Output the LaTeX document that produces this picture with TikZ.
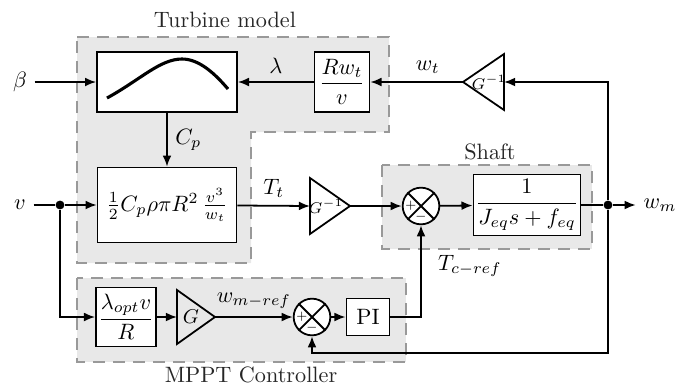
\documentclass[tikz,border=0pt]{standalone}
\usepackage{amsmath}
\usetikzlibrary{shapes.geometric,arrows.meta}
\begin{document}
\begin{tikzpicture}[x=0.45pt,y=-0.45pt,
 blk/.style={draw,thick,fill=white,inner sep=1pt},
 sumnode/.style={draw,thick,circle,fill=white,minimum size=16.5pt,inner sep=0pt},
 tri/.style={draw,thick,line join=miter},
 gtxt/.style={font=\scriptsize,inner sep=0pt},
 sig/.style={thick,-{Latex[length=5pt,width=4pt]}},
 ln/.style={thick},
 grp/.style={draw=black!40,fill=black!9,dash pattern=on 5.4pt off 3.6pt,line width=0.8pt},
 jdot/.style={circle,fill,inner sep=0pt,minimum size=4pt},
 ttl/.style={text=black!85},
 sgn/.style={font=\tiny,inner sep=0pt}
]
\useasboundingbox (0,0) rectangle (683,387);
% groups
\path[grp] (77,37) -- (389,37) -- (389,132) -- (251,132) -- (251,263) -- (77,263) -- cycle;
\path[grp] (382,165) rectangle (592,249);
\path[grp] (77,278) rectangle (406,362);
\node[ttl] (tturb) at (225,20) {Turbine model};
\node[ttl] (tshaft) at (490,152) {Shaft};
\node[ttl] (tmppt) at (251,375) {MPPT Controller};
% blocks
\node[blk,minimum width=63pt,minimum height=27pt] (cpc) at (167,82) {};
\draw[line width=1.4pt] (107,98) .. controls (140,80) and (160,59) .. (182,59) .. controls (200,59) and (216,75) .. (228,89);
\node[blk,minimum width=24.75pt,minimum height=27pt] (rw) at (342,82) {$\dfrac{Rw_t}{v}$};
\node[blk,minimum width=62.5pt,minimum height=33.75pt] (form) at (167,205) {$\frac{1}{2}C_p\rho\pi R^2\,\frac{v^3}{w_t}$};
\node (vin) at (20,205) {$v$};
\node (bin) at (20,82) {$\beta$};
\node[jdot] (d1) at (60,205) {};
\node[sumnode] (s1) at (421,206) {};
\node[blk,minimum width=43.7pt,minimum height=27.5pt] (tf) at (527,205) {$\dfrac{1}{J_{eq}s+f_{eq}}$};
\node[jdot] (d2) at (608,205) {};
\node (wm) at (660,205) {$w_m$};
\node[blk,minimum width=26.5pt,minimum height=26.5pt] (lo) at (126,317) {$\dfrac{\lambda_{opt}v}{R}$};
\node[sumnode] (s2) at (312,317) {};
\node[blk,minimum width=19.4pt,minimum height=16.7pt] (pi) at (368,317) {PI};
\coordinate (c3) at (608,353);
% gain triangles
\coordinate (gtA) at (463,82); \coordinate (gtB) at (504,82);
\draw[tri] (504,54) -- (504,110) -- (gtA) -- cycle;
\node[gtxt] (gtT) at (489,82) {$G^{-1}$};
\coordinate (gmA) at (350,206); \coordinate (gmB) at (310,206);
\draw[tri] (310,178) -- (310,234) -- (gmA) -- cycle;
\node[gtxt] (gmT) at (326,206) {$G^{-1}$};
\coordinate (gA) at (215,317); \coordinate (gB) at (177,317);
\draw[tri] (177,290) -- (177,344) -- (gA) -- cycle;
\node[font=\small,inner sep=0pt] (gT) at (191,317) {$G$};
% summer marks
\foreach \s in {s1,s2}{
  \draw[thick] (\s.north east) -- (\s.south west) (\s.north west) -- (\s.south east);
}
\node[sgn] (s1p) at ([xshift=-4.6pt]s1.center) {$+$};
\node[sgn] (s1m) at ([yshift=-4.8pt]s1.center) {$-$};
\node[sgn] (s2p) at ([xshift=-4.6pt]s2.center) {$+$};
\node[sgn] (s2m) at ([yshift=-4.8pt]s2.center) {$-$};
% connectors
\draw[sig] (bin) -- (cpc);
\draw[sig] (rw) -- node[above] {$\lambda$} (cpc);
\draw[sig] (gtA) -- node[above,pos=0.38] {$w_t$} (rw);
\draw[sig] (cpc) -- node[right] {$C_p$} (form);
\draw[ln] (vin) -- (d1);
\draw[sig] (d1) -- (form);
\draw[sig] (d1) |- (lo);
\draw[sig] (lo) -- (gB);
\draw[sig] (gA) -- node[above] {$w_{m-ref}$} (s2);
\draw[sig] (s2) -- (pi);
\draw[sig] (pi) -| node[pos=0.78,right,xshift=4pt] {$T_{c-ref}$} (s1);
\draw[sig] (form) -- node[above] {$T_t$} (gmB);
\draw[sig] (gmA) -- (s1);
\draw[sig] (s1) -- (tf);
\draw[ln] (tf) -- (d2);
\draw[sig] (d2) -- (wm);
\draw[sig] (d2) |- (gtB);
\draw[sig] (d2) -- (c3) -| (s2);
\end{tikzpicture}
\end{document}
